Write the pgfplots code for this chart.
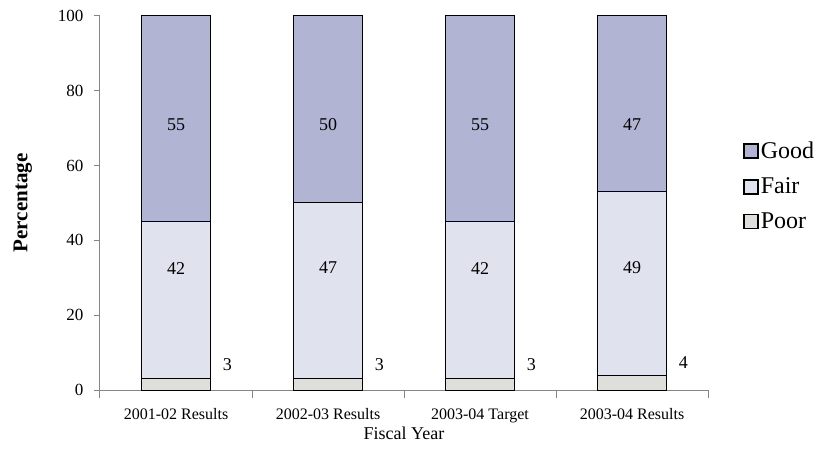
\documentclass[border=0pt]{standalone}
\usepackage{fontspec}
\setmainfont{Liberation Serif}
\usepackage{pgfplots}
\pgfplotsset{compat=1.18}
\usepackage{pgfplotstable}

\definecolor{goodc}{HTML}{B1B4D2}
\definecolor{fairc}{HTML}{E0E2EE}
\definecolor{poorc}{HTML}{DEDFDB}
\definecolor{axisgray}{HTML}{858585}

% Condition ratings by fiscal year (percent)
\pgfplotstableread{
x poor fair good
0 3 42 55
1 3 47 50
2 3 42 55
3 4 49 47
}\ratings

\pgfplotsset{
  sqlegend/.style={legend image code/.code={%
    \draw[##1, draw=black, line width=1.8bp] (0bp,-7bp) rectangle (14bp,7bp);}},
  frame/.style={
    at={(0,0)}, anchor=south west,
    scale only axis, width=608bp, height=374bp,
    xmin=-0.5, xmax=3.5, ymin=0, ymax=100,
  },
  vallabel/.style={
    only marks, mark=none, point meta=explicit, nodes near coords,
    every node near coord/.style={anchor=center,
      font=\fontsize{18bp}{20bp}\selectfont,
      /pgf/number format/assume math mode=true},
  },
}

\begin{document}
\begin{tikzpicture}
\useasboundingbox (-100bp,-62bp) rectangle (722bp,390bp);
\begin{axis}[
  frame,
  ybar stacked, bar width=69bp,
  axis x line*=bottom, axis y line*=left,
  axis line style={axisgray, line width=1bp},
  tick align=outside,
  xtick={0,1,2,3},
  xticklabels={2001-02 Results, 2002-03 Results, 2003-04 Target, 2003-04 Results},
  minor xtick={-0.5,0.5,1.5,2.5,3.5},
  major x tick style={draw=none},
  minor x tick style={axisgray, line width=1bp},
  minor tick length=8bp,
  ytick={0,20,...,100},
  y tick style={axisgray, line width=1bp},
  major tick length=6bp,
  every tick label/.append style={font=\fontsize{16bp}{18bp}\selectfont},
  /pgf/number format/assume math mode=true,
  yticklabel style={font=\fontsize{17bp}{19bp}\selectfont, xshift=-7bp},
  xticklabel style={yshift=-9bp},
  xlabel={Fiscal Year},
  ylabel={Percentage},
  every axis x label/.style={at={(axis description cs:0.5,-0.115)}, anchor=center,
    font=\fontsize{18bp}{20bp}\selectfont},
  every axis y label/.style={at={(axis description cs:-0.127,0.5)}, anchor=center, rotate=90,
    font=\bfseries\fontsize{21bp}{23bp}\selectfont},
  legend style={at={(1.058,0.545)}, anchor=west, draw=none, fill=none,
    font=\fontsize{24bp}{26bp}\selectfont, row sep=14.5bp, inner sep=0pt,
    nodes={inner sep=1.5bp}},
  legend cell align=left,
  reverse legend,
]
\addplot[fill=poorc, draw=black, line width=1bp, sqlegend,
  nodes near coords, point meta=explicit,
  every node near coord/.style={anchor=west, xshift=43bp, yshift=20bp,
    font=\fontsize{18bp}{20bp}\selectfont,
    /pgf/number format/assume math mode=true}]
  table[x=x, y=poor, meta=poor] {\ratings};
\addplot[fill=fairc, draw=black, line width=1bp, sqlegend]
  table[x=x, y=fair] {\ratings};
\addplot[fill=goodc, draw=black, line width=1bp, sqlegend]
  table[x=x, y=good] {\ratings};
\legend{Poor, Fair, Good}
\end{axis}
% segment values, printed on a common line per rating
\begin{axis}[frame, hide axis]
\addplot[vallabel] table[x=x, y expr=32.6, meta=fair] {\ratings};
\addplot[vallabel] table[x=x, y expr=70.9, meta=good] {\ratings};
\end{axis}
\end{tikzpicture}
\end{document}
